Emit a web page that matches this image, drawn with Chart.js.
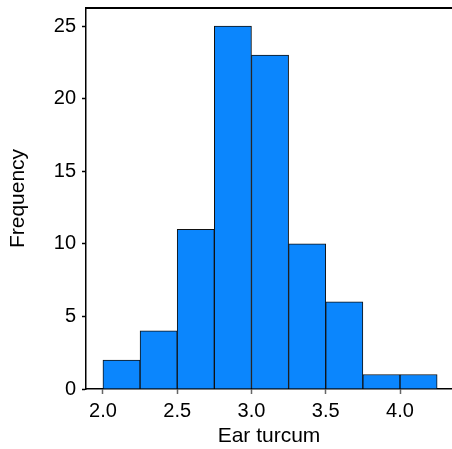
<!DOCTYPE html>
<html>
<head>
<meta charset="utf-8">
<script src="https://cdn.jsdelivr.net/npm/chart.js@4"></script>
<style>
  html, body { margin: 0; padding: 0; background: #fff; }
  #wrap { width: 452px; height: 449px; }
</style>
</head>
<body>
<div id="wrap"><canvas id="hist"></canvas></div>
<script>
  // histogram bins (lower edge) and counts
  const binStarts = [2.0, 2.25, 2.5, 2.75, 3.0, 3.25, 3.5, 3.75, 4.0];
  const binWidth = 0.25;
  const counts = [2, 4, 11, 25, 23, 10, 6, 1, 1];
  const xTicks = [2.0, 2.5, 3.0, 3.5, 4.0];
  const yTicks = [0, 5, 10, 15, 20, 25];

  const points = binStarts.map((s, i) => ({ x: s + binWidth / 2, y: counts[i] }));

  const topLine = {
    id: 'topLine',
    afterDraw: (chart) => {
      const {ctx, chartArea} = chart;
      ctx.save();
      ctx.strokeStyle = '#000';
      ctx.lineWidth = 2;
      ctx.beginPath();
      ctx.moveTo(chartArea.left, chartArea.top);
      ctx.lineTo(chartArea.right, chartArea.top);
      ctx.stroke();
      ctx.restore();
    }
  };

  const font = { family: 'Liberation Sans, Arial, sans-serif', size: 20 };
  const titleFont = { family: 'Liberation Sans, Arial, sans-serif', size: 21 };

  const config = {
    type: 'bar',
    data: {
      datasets: [{
        label: 'Frequency',
        data: points,
        backgroundColor: '#0b86fd',
        borderColor: '#111',
        borderWidth: 1,
        barPercentage: 1,
        categoryPercentage: 1,
        grouped: false
      }]
    },
    plugins: [topLine],
    options: {
      responsive: true,
      maintainAspectRatio: false,
      animation: false,
      layout: { padding: { top: 8, right: 0, left: 0, bottom: 0 } },
      plugins: {
        legend: { display: false },
        tooltip: { enabled: false }
      },
      scales: {
        x: {
          type: 'linear',
          min: 1.886,
          max: 4.35,
          offset: false,
          afterBuildTicks: (scale) => { scale.ticks = xTicks.map(v => ({ value: v })); },
          afterFit: (scale) => { scale.height = 60; scale.paddingLeft = 0; scale.paddingRight = 0; },
          grid: { offset: false, drawOnChartArea: false, tickLength: 5, tickColor: '#666', tickWidth: 1.5 },
          border: { color: '#000', width: 1.5 },
          ticks: {
            color: '#000', font: font, padding: 5, maxRotation: 0,
            callback: (v) => v.toFixed(1)
          },
          title: { display: true, text: 'Ear turcum', color: '#000', font: titleFont, padding: { top: 2, bottom: 0 } }
        },
        y: {
          min: 0,
          max: 26.24,
          afterBuildTicks: (scale) => { scale.ticks = yTicks.map(v => ({ value: v })); },
          afterFit: (scale) => { scale.width = 86; scale.paddingTop = 0; scale.paddingBottom = 0; },
          grid: { offset: false, drawOnChartArea: false, tickLength: 4, tickColor: '#000', tickWidth: 1.5 },
          border: { color: '#000', width: 1.5 },
          ticks: { color: '#000', font: font, padding: 6 },
          title: { display: true, text: 'Frequency', color: '#000', font: titleFont, padding: { top: 6, bottom: 0 } }
        }
      }
    }
  };

  const myChart = new Chart(document.getElementById('hist'), config);
</script>
</body>
</html>
